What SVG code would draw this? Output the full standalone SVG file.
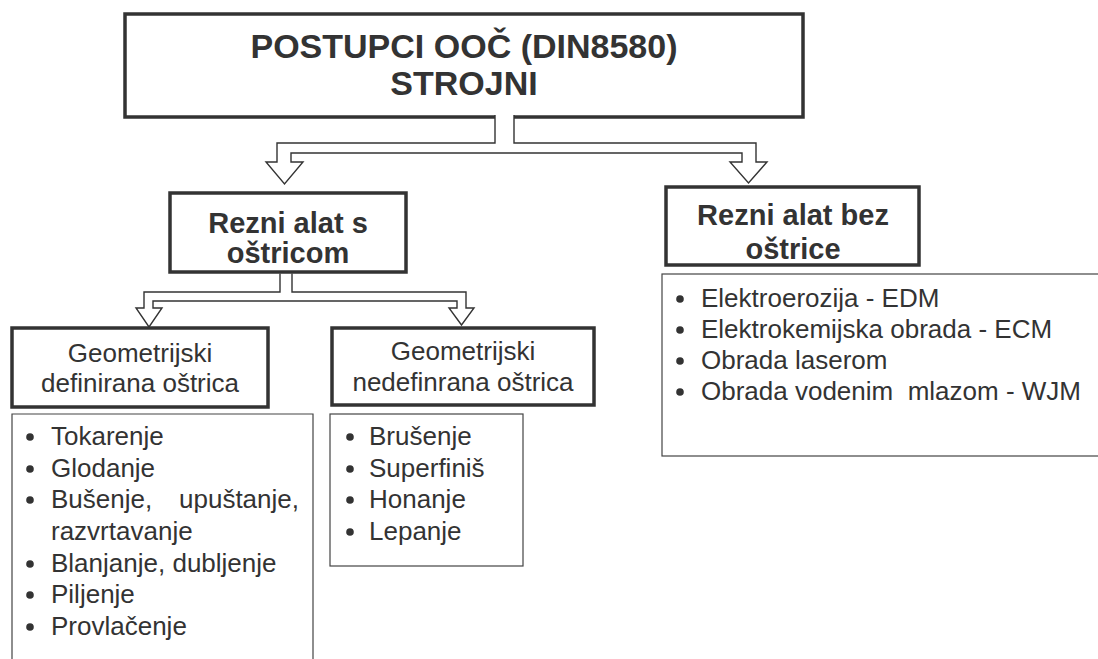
<svg xmlns="http://www.w3.org/2000/svg" width="1098" height="659" viewBox="0 0 1098 659">
<style>
.box{fill:#fff;stroke:#333;stroke-width:3.5}
.list{fill:#fff;stroke:#444;stroke-width:1.2}
.arrow{fill:#fff;stroke:#333;stroke-width:1.4;stroke-linejoin:miter}
.tb{font-family:"Liberation Sans",Arial,sans-serif;font-weight:bold;fill:#333;text-anchor:middle}
.t{font-family:"Liberation Sans",Arial,sans-serif;fill:#333;font-size:26px}
.c{text-anchor:middle}
.dot{fill:#333}
</style>
<g id="root">
<rect class="box" x="125" y="14" width="678" height="103"/>
<text class="tb" x="464" y="58" font-size="34">POSTUPCI OOČ (DIN8580)</text>
<text class="tb" x="464" y="95" font-size="34">STROJNI</text>
</g>
<g id="connectors">
<path class="arrow" d="M495,115 V143 H277 V162 H266 L284.5,184 L303,162 H291 V153 H742 V162 H730 L748.5,183 L767,162 H756 V143 H514 V115"/>
<path class="arrow" d="M280,273.5 V292 H144 V308 H136 L149,327 L162,308 H153 V301 H457 V308 H449 L461.5,325 L474,308 H466 V292 H292 V273.5"/>
</g>
<g id="rezni-s">
<rect class="box" x="170" y="193" width="236" height="79"/>
<text class="tb" x="288" y="233" font-size="29">Rezni alat s</text>
<text class="tb" x="288" y="263" font-size="29">oštricom</text>
</g>
<g id="rezni-bez">
<rect class="box" x="666" y="187" width="253" height="78"/>
<text class="tb" x="793" y="225" font-size="29">Rezni alat bez</text>
<text class="tb" x="793" y="259" font-size="29">oštrice</text>
</g>
<g id="list-bez">
<rect class="list" x="662" y="274" width="440" height="182"/>
<circle class="dot" cx="680" cy="299" r="3.8"/>
<text class="t" x="701" y="307">Elektroerozija - EDM</text>
<circle class="dot" cx="680" cy="330" r="3.8"/>
<text class="t" x="701" y="338">Elektrokemijska obrada - ECM</text>
<circle class="dot" cx="680" cy="361" r="3.8"/>
<text class="t" x="701" y="369">Obrada laserom</text>
<circle class="dot" cx="680" cy="392" r="3.8"/>
<text class="t" x="701" y="400" xml:space="preserve">Obrada vodenim  mlazom - WJM</text>
</g>
<g id="geo-def">
<rect class="box" x="12" y="328" width="256" height="79"/>
<text class="t c" x="140" y="362">Geometrijski</text>
<text class="t c" x="140" y="392">definirana oštrica</text>
</g>
<g id="list-def">
<path class="list" d="M12,670 V414 H313 V670"/>
<circle class="dot" cx="30" cy="437" r="3.8"/>
<text class="t" x="51" y="445">Tokarenje</text>
<circle class="dot" cx="30" cy="469" r="3.8"/>
<text class="t" x="51" y="477">Glodanje</text>
<circle class="dot" cx="30" cy="500" r="3.8"/>
<text class="t" x="51" y="508"><tspan>Bušenje,</tspan><tspan x="299" text-anchor="end">upuštanje,</tspan></text>
<text class="t" x="51" y="540">razvrtavanje</text>
<circle class="dot" cx="30" cy="564" r="3.8"/>
<text class="t" x="51" y="572">Blanjanje, dubljenje</text>
<circle class="dot" cx="30" cy="595" r="3.8"/>
<text class="t" x="51" y="603">Piljenje</text>
<circle class="dot" cx="30" cy="627" r="3.8"/>
<text class="t" x="51" y="635">Provlačenje</text>
</g>
<g id="geo-nedef">
<rect class="box" x="332" y="328" width="262" height="77"/>
<text class="t c" x="463" y="360">Geometrijski</text>
<text class="t c" x="463" y="391">nedefinrana oštrica</text>
</g>
<g id="list-nedef">
<rect class="list" x="330" y="414" width="193" height="152"/>
<circle class="dot" cx="350" cy="437" r="3.8"/>
<text class="t" x="369" y="445">Brušenje</text>
<circle class="dot" cx="350" cy="469" r="3.8"/>
<text class="t" x="369" y="477">Superfiniš</text>
<circle class="dot" cx="350" cy="500" r="3.8"/>
<text class="t" x="369" y="508">Honanje</text>
<circle class="dot" cx="350" cy="532" r="3.8"/>
<text class="t" x="369" y="540">Lepanje</text>
</g>
</svg>
